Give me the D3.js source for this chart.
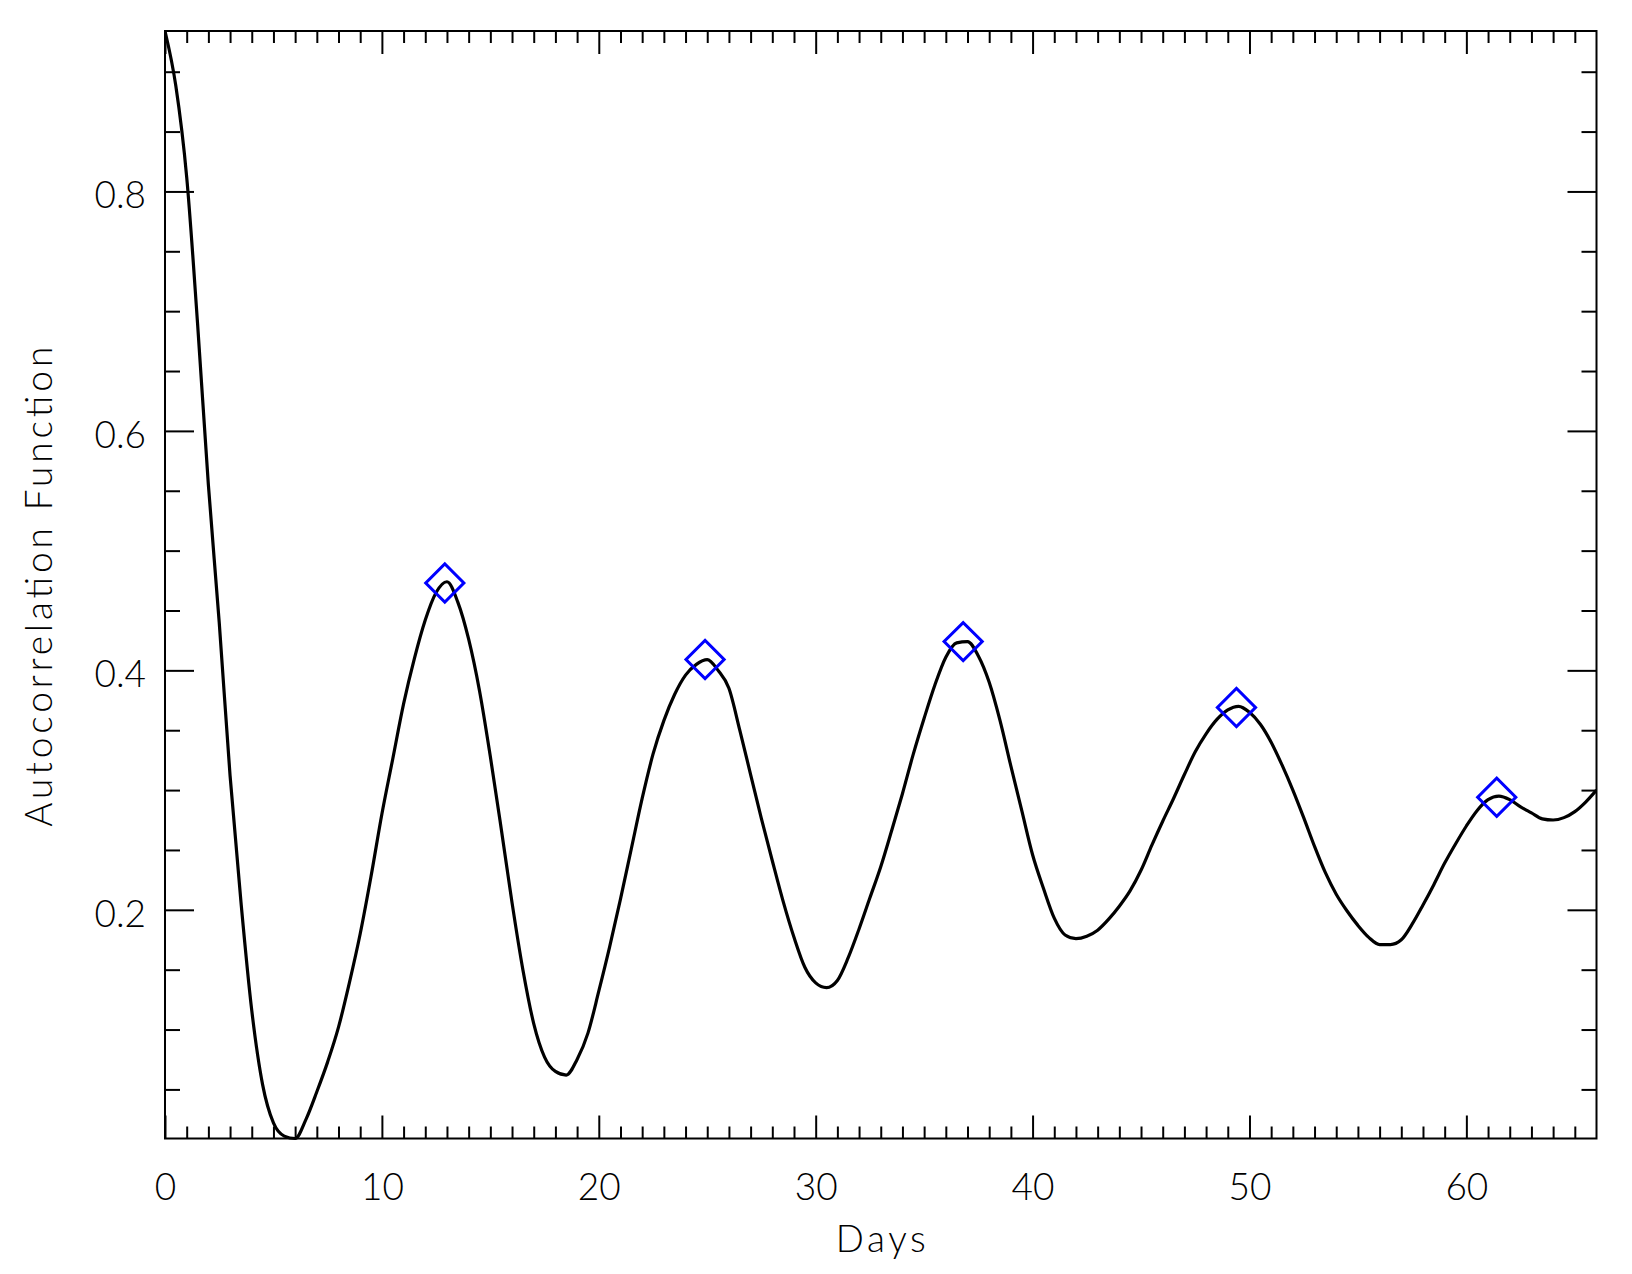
<!DOCTYPE html>
<html>
<head>
<meta charset="utf-8">
<script src="https://cdn.jsdelivr.net/npm/d3@7"></script>
<style>
  html, body { margin: 0; padding: 0; background: #ffffff; }
  svg { display: block; }
  text { font-family: Lato, "Open Sans", "DejaVu Sans", sans-serif; font-weight: 300; fill: #000; }
</style>
</head>
<body>
<svg id="chart" width="1632" height="1274"></svg>
<script>
// ---------------- data ----------------
const lagDays = [
  0, 0.5, 1, 1.5, 2, 2.5, 3, 3.5, 4, 4.5, 5, 5.5, 6, 6.5, 7, 7.5, 8, 8.5, 9, 9.5,
  10, 10.5, 11, 11.5, 12, 12.5, 13, 13.5, 14, 14.5, 15, 15.5, 16, 16.5, 17, 17.5, 18, 18.5, 19, 19.5,
  20, 20.5, 21, 21.5, 22, 22.5, 23, 23.5, 24, 24.5, 25, 25.5, 26, 26.5, 27, 27.5, 28, 28.5, 29, 29.5,
  30, 30.5, 31, 31.5, 32, 32.5, 33, 33.5, 34, 34.5, 35, 35.5, 36, 36.5, 37, 37.5, 38, 38.5, 39, 39.5,
  40, 40.5, 41, 41.5, 42, 42.5, 43, 43.5, 44, 44.5, 45, 45.5, 46, 46.5, 47, 47.5, 48, 48.5, 49, 49.5,
  50, 50.5, 51, 51.5, 52, 52.5, 53, 53.5, 54, 54.5, 55, 55.5, 56, 56.5, 57, 57.5, 58, 58.5, 59, 59.5,
  60, 60.5, 61, 61.5, 62, 62.5, 63, 63.5, 64, 64.5, 65, 65.5, 66
];
const acfValues = [
  0.934, 0.888, 0.812, 0.690, 0.555, 0.440, 0.312, 0.207, 0.116, 0.054, 0.022, 0.011, 0.009, 0.025, 0.048, 0.073, 0.102, 0.139, 0.180, 0.228,
  0.280, 0.326, 0.372, 0.410, 0.442, 0.465, 0.474, 0.457, 0.426, 0.383, 0.328, 0.268, 0.206, 0.150, 0.105, 0.077, 0.065, 0.062, 0.075, 0.097,
  0.132, 0.169, 0.209, 0.251, 0.293, 0.330, 0.358, 0.380, 0.396, 0.405, 0.409, 0.400, 0.385, 0.350, 0.313, 0.276, 0.241, 0.207, 0.177, 0.152,
  0.139, 0.135, 0.141, 0.160, 0.184, 0.210, 0.236, 0.266, 0.297, 0.330, 0.360, 0.388, 0.411, 0.423, 0.424, 0.412, 0.390, 0.358, 0.320, 0.283,
  0.246, 0.218, 0.193, 0.179, 0.176, 0.178, 0.183, 0.192, 0.203, 0.216, 0.233, 0.254, 0.274, 0.293, 0.313, 0.332, 0.347, 0.359, 0.367, 0.370,
  0.365, 0.355, 0.340, 0.321, 0.300, 0.277, 0.253, 0.231, 0.213, 0.199, 0.187, 0.177, 0.171, 0.171, 0.175, 0.188, 0.204, 0.221, 0.239, 0.255,
  0.270, 0.283, 0.292, 0.295, 0.292, 0.286, 0.281, 0.276, 0.275, 0.277, 0.282, 0.290, 0.300
];
const peakDays = [12.9, 24.9, 36.8, 49.4, 61.4];
const peakValues = [0.473, 0.409, 0.424, 0.369, 0.294];

const xMajorTicks = [0, 10, 20, 30, 40, 50, 60];
const xMinorTicks = [1,2,3,4,5,6,7,8,9,11,12,13,14,15,16,17,18,19,21,22,23,24,25,26,27,28,29,
                     31,32,33,34,35,36,37,38,39,41,42,43,44,45,46,47,48,49,51,52,53,54,55,56,57,58,59,
                     61,62,63,64,65];
const yMajorTicks = [0.2, 0.4, 0.6, 0.8];
const yTickLabels = ["0.2", "0.4", "0.6", "0.8"];
const yMinorTicks = [0.05, 0.1, 0.15, 0.25, 0.3, 0.35, 0.45, 0.5, 0.55, 0.65, 0.7, 0.75, 0.85, 0.9];
const xTitle = "Days";
const yTitle = "Autocorrelation Function";

// ---------------- layout ----------------
const plot = { left: 165, right: 1596.5, top: 31, bottom: 1138.5 };
const FONT = 37;

const svg = d3.select("#chart");

const x = d3.scaleLinear().domain([0, 66]).range([plot.left, plot.right]);
const y = d3.scaleLinear().domain(d3.extent(acfValues)).range([plot.bottom, plot.top]);

const pts = lagDays.map((d, i) => [d, acfValues[i]]);

svg.append("clipPath").attr("id", "clip")
  .append("rect").attr("x", plot.left).attr("y", plot.top - 2)
  .attr("width", plot.right - plot.left).attr("height", plot.bottom - plot.top + 4);

svg.append("path")
  .datum(pts)
  .attr("clip-path", "url(#clip)")
  .attr("fill", "none")
  .attr("stroke", "#000")
  .attr("stroke-width", 3.2)
  .attr("stroke-linejoin", "round")
  .attr("d", d3.line().x(d => x(d[0])).y(d => y(d[1])).curve(d3.curveMonotoneX));

const sq = d3.symbol().type(d3.symbolSquare).size(27 * 27);
svg.append("g").selectAll("path")
  .data(peakDays.map((d, i) => [d, peakValues[i]]))
  .join("path")
  .attr("d", sq)
  .attr("transform", d => `translate(${x(d[0])},${y(d[1])}) rotate(45)`)
  .attr("fill", "none")
  .attr("stroke", "#0000ff")
  .attr("stroke-width", 3);

function styleAxis(g) {
  g.select(".domain").remove();
  g.selectAll(".tick line").attr("stroke", "#000").attr("stroke-width", 2);
  g.selectAll("text").attr("font-size", FONT).attr("font-family", null).attr("fill", "#000");
}

// bottom
svg.append("g").attr("transform", `translate(0,${plot.bottom})`)
  .call(d3.axisBottom(x).tickValues(xMinorTicks).tickSize(-12).tickFormat(""))
  .call(styleAxis);
svg.append("g").attr("transform", `translate(0,${plot.bottom})`)
  .call(d3.axisBottom(x).tickValues(xMajorTicks).tickSize(-23).tickPadding(35).tickFormat(d3.format("d")))
  .call(styleAxis);
// top
svg.append("g").attr("transform", `translate(0,${plot.top})`)
  .call(d3.axisTop(x).tickValues(xMinorTicks).tickSize(-12).tickFormat(""))
  .call(styleAxis);
svg.append("g").attr("transform", `translate(0,${plot.top})`)
  .call(d3.axisTop(x).tickValues(xMajorTicks).tickSize(-23).tickFormat(""))
  .call(styleAxis);
// left
svg.append("g").attr("transform", `translate(${plot.left},0)`)
  .call(d3.axisLeft(y).tickValues(yMinorTicks).tickSize(-15).tickFormat(""))
  .call(styleAxis);
const yl = svg.append("g").attr("transform", `translate(${plot.left},0)`)
  .call(d3.axisLeft(y).tickValues(yMajorTicks).tickSize(-29).tickPadding(19)
        .tickFormat((d, i) => yTickLabels[i]))
  .call(styleAxis);
yl.selectAll("text").attr("dy", "0.44em");
// right
svg.append("g").attr("transform", `translate(${plot.right},0)`)
  .call(d3.axisRight(y).tickValues(yMinorTicks).tickSize(-15).tickFormat(""))
  .call(styleAxis);
svg.append("g").attr("transform", `translate(${plot.right},0)`)
  .call(d3.axisRight(y).tickValues(yMajorTicks).tickSize(-29).tickFormat(""))
  .call(styleAxis);

// frame
svg.append("rect")
  .attr("x", plot.left).attr("y", plot.top)
  .attr("width", plot.right - plot.left).attr("height", plot.bottom - plot.top)
  .attr("fill", "none").attr("stroke", "#000").attr("stroke-width", 2);

// titles
svg.append("text")
  .attr("x", (plot.left + plot.right) / 2).attr("y", 1252)
  .attr("text-anchor", "middle").attr("font-size", FONT)
  .attr("textLength", 90).attr("lengthAdjust", "spacing")
  .text(xTitle);

svg.append("text")
  .attr("transform", `translate(52,${(plot.top + plot.bottom) / 2 + 2}) rotate(-90)`)
  .attr("text-anchor", "middle").attr("font-size", FONT)
  .attr("textLength", 480).attr("lengthAdjust", "spacing")
  .text(yTitle);
</script>
</body>
</html>
